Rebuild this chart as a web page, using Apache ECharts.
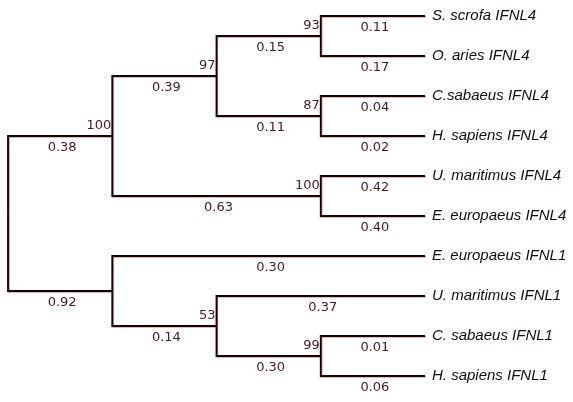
<!DOCTYPE html>
<html><head><meta charset="utf-8">
<script src="https://cdn.jsdelivr.net/npm/echarts@6/dist/echarts.min.js"></script>
<style>html,body{margin:0;padding:0;background:#fff}#c{width:573px;height:402px}</style>
</head><body><div id="c"></div>
<script>
// Leaves (top to bottom)
const leafLabels = ['S. scrofa IFNL4', 'O. aries IFNL4', 'C.sabaeus IFNL4', 'H. sapiens IFNL4', 'U. maritimus IFNL4', 'E. europaeus IFNL4', 'E. europaeus IFNL1', 'U. maritimus IFNL1', 'C. sabaeus IFNL1', 'H. sapiens IFNL1'];
const leafParents = ['n93', 'n93', 'n87', 'n87', 'n100', 'n100', 'B', 'n53', 'n99', 'n99'];
const leafLengths = [0.11, 0.17, 0.04, 0.02, 0.42, 0.40, 0.30, 0.37, 0.01, 0.06];
// Internal nodes
const innerNodes = ['root', 'A', 'B', 'n97', 'n93', 'n87', 'n100', 'n53', 'n99'];
const innerParents = [null, 'root', 'root', 'A', 'n97', 'n97', 'A', 'B', 'n53'];
const innerLengths = [null, 0.38, 0.92, 0.39, 0.15, 0.11, 0.63, 0.14, 0.30];
const innerSupport = [null, 100, null, 97, 93, 87, 100, 53, 99];

const nodes = {};
innerNodes.forEach((id, i) => nodes[id] = {id, parent: innerParents[i], len: innerLengths[i], support: innerSupport[i], children: [], leaf: false});
leafLabels.forEach((name, i) => { const id = 'leaf' + i; nodes[id] = {id, parent: leafParents[i], len: leafLengths[i], name, leafIndex: i, children: [], leaf: true}; });
Object.values(nodes).forEach(n => { if (n.parent) nodes[n.parent].children.push(n); });
function height(n) { return n.leaf ? 0 : 1 + Math.max(...n.children.map(height)); }
function yOf(n) { return n.leaf ? n.leafIndex : n.children.map(yOf).reduce((a, b) => a + b, 0) / n.children.length; }
const maxH = height(nodes.root);
const xOf = n => maxH - height(n);

const branches = [];
Object.values(nodes).forEach(n => {
  if (!n.parent) return;
  const p = nodes[n.parent];
  branches.push({value: [xOf(p), yOf(p), xOf(n), yOf(n)], len: n.len, support: n.leaf ? null : n.support, name: n.leaf ? n.name : null});
});

const numFont = {fontFamily: 'DejaVu Sans', fontSize: 13, fill: '#4a1820'};
const chart = echarts.init(document.getElementById('c'));
chart.setOption({
  animation: false,
  grid: {left: 8, right: 148, top: 16, bottom: 26},
  xAxis: {type: 'value', min: 0, max: maxH, show: false},
  yAxis: {type: 'value', min: 0, max: leafLabels.length - 1, inverse: true, show: false},
  series: [{
    type: 'custom',
    data: branches.map(b => b.value),
    renderItem: function (params, api) {
      const b = branches[params.dataIndex];
      const p = api.coord([api.value(0), api.value(1)]);
      const c = api.coord([api.value(2), api.value(3)]);
      const children = [{
        type: 'polyline',
        shape: {points: [[p[0], p[1]], [p[0], c[1]], [c[0], c[1]]]},
        style: {stroke: '#0c0406', lineWidth: 1.8, fill: null, shadowColor: 'rgba(210,40,40,0.7)', shadowOffsetX: 0.7, shadowOffsetY: 0.7, shadowBlur: 0}
      }, {
        type: 'text',
        style: Object.assign({text: b.len.toFixed(2), x: (p[0] + c[0]) / 2 + 2, y: c[1] + 12, align: 'center', verticalAlign: 'middle'}, numFont)
      }];
      if (b.support != null) {
        children.push({type: 'text', style: Object.assign({text: String(b.support), x: c[0] - 1, y: c[1] - 10, align: 'right', verticalAlign: 'middle'}, numFont)});
      }
      if (b.name) {
        children.push({type: 'text', style: {text: b.name, x: c[0] + 7, y: c[1], align: 'left', verticalAlign: 'middle', fontFamily: 'Liberation Sans', fontStyle: 'italic', fontSize: 15, fill: '#160a10'}});
      }
      return {type: 'group', children};
    }
  }]
});
</script>
</body></html>
